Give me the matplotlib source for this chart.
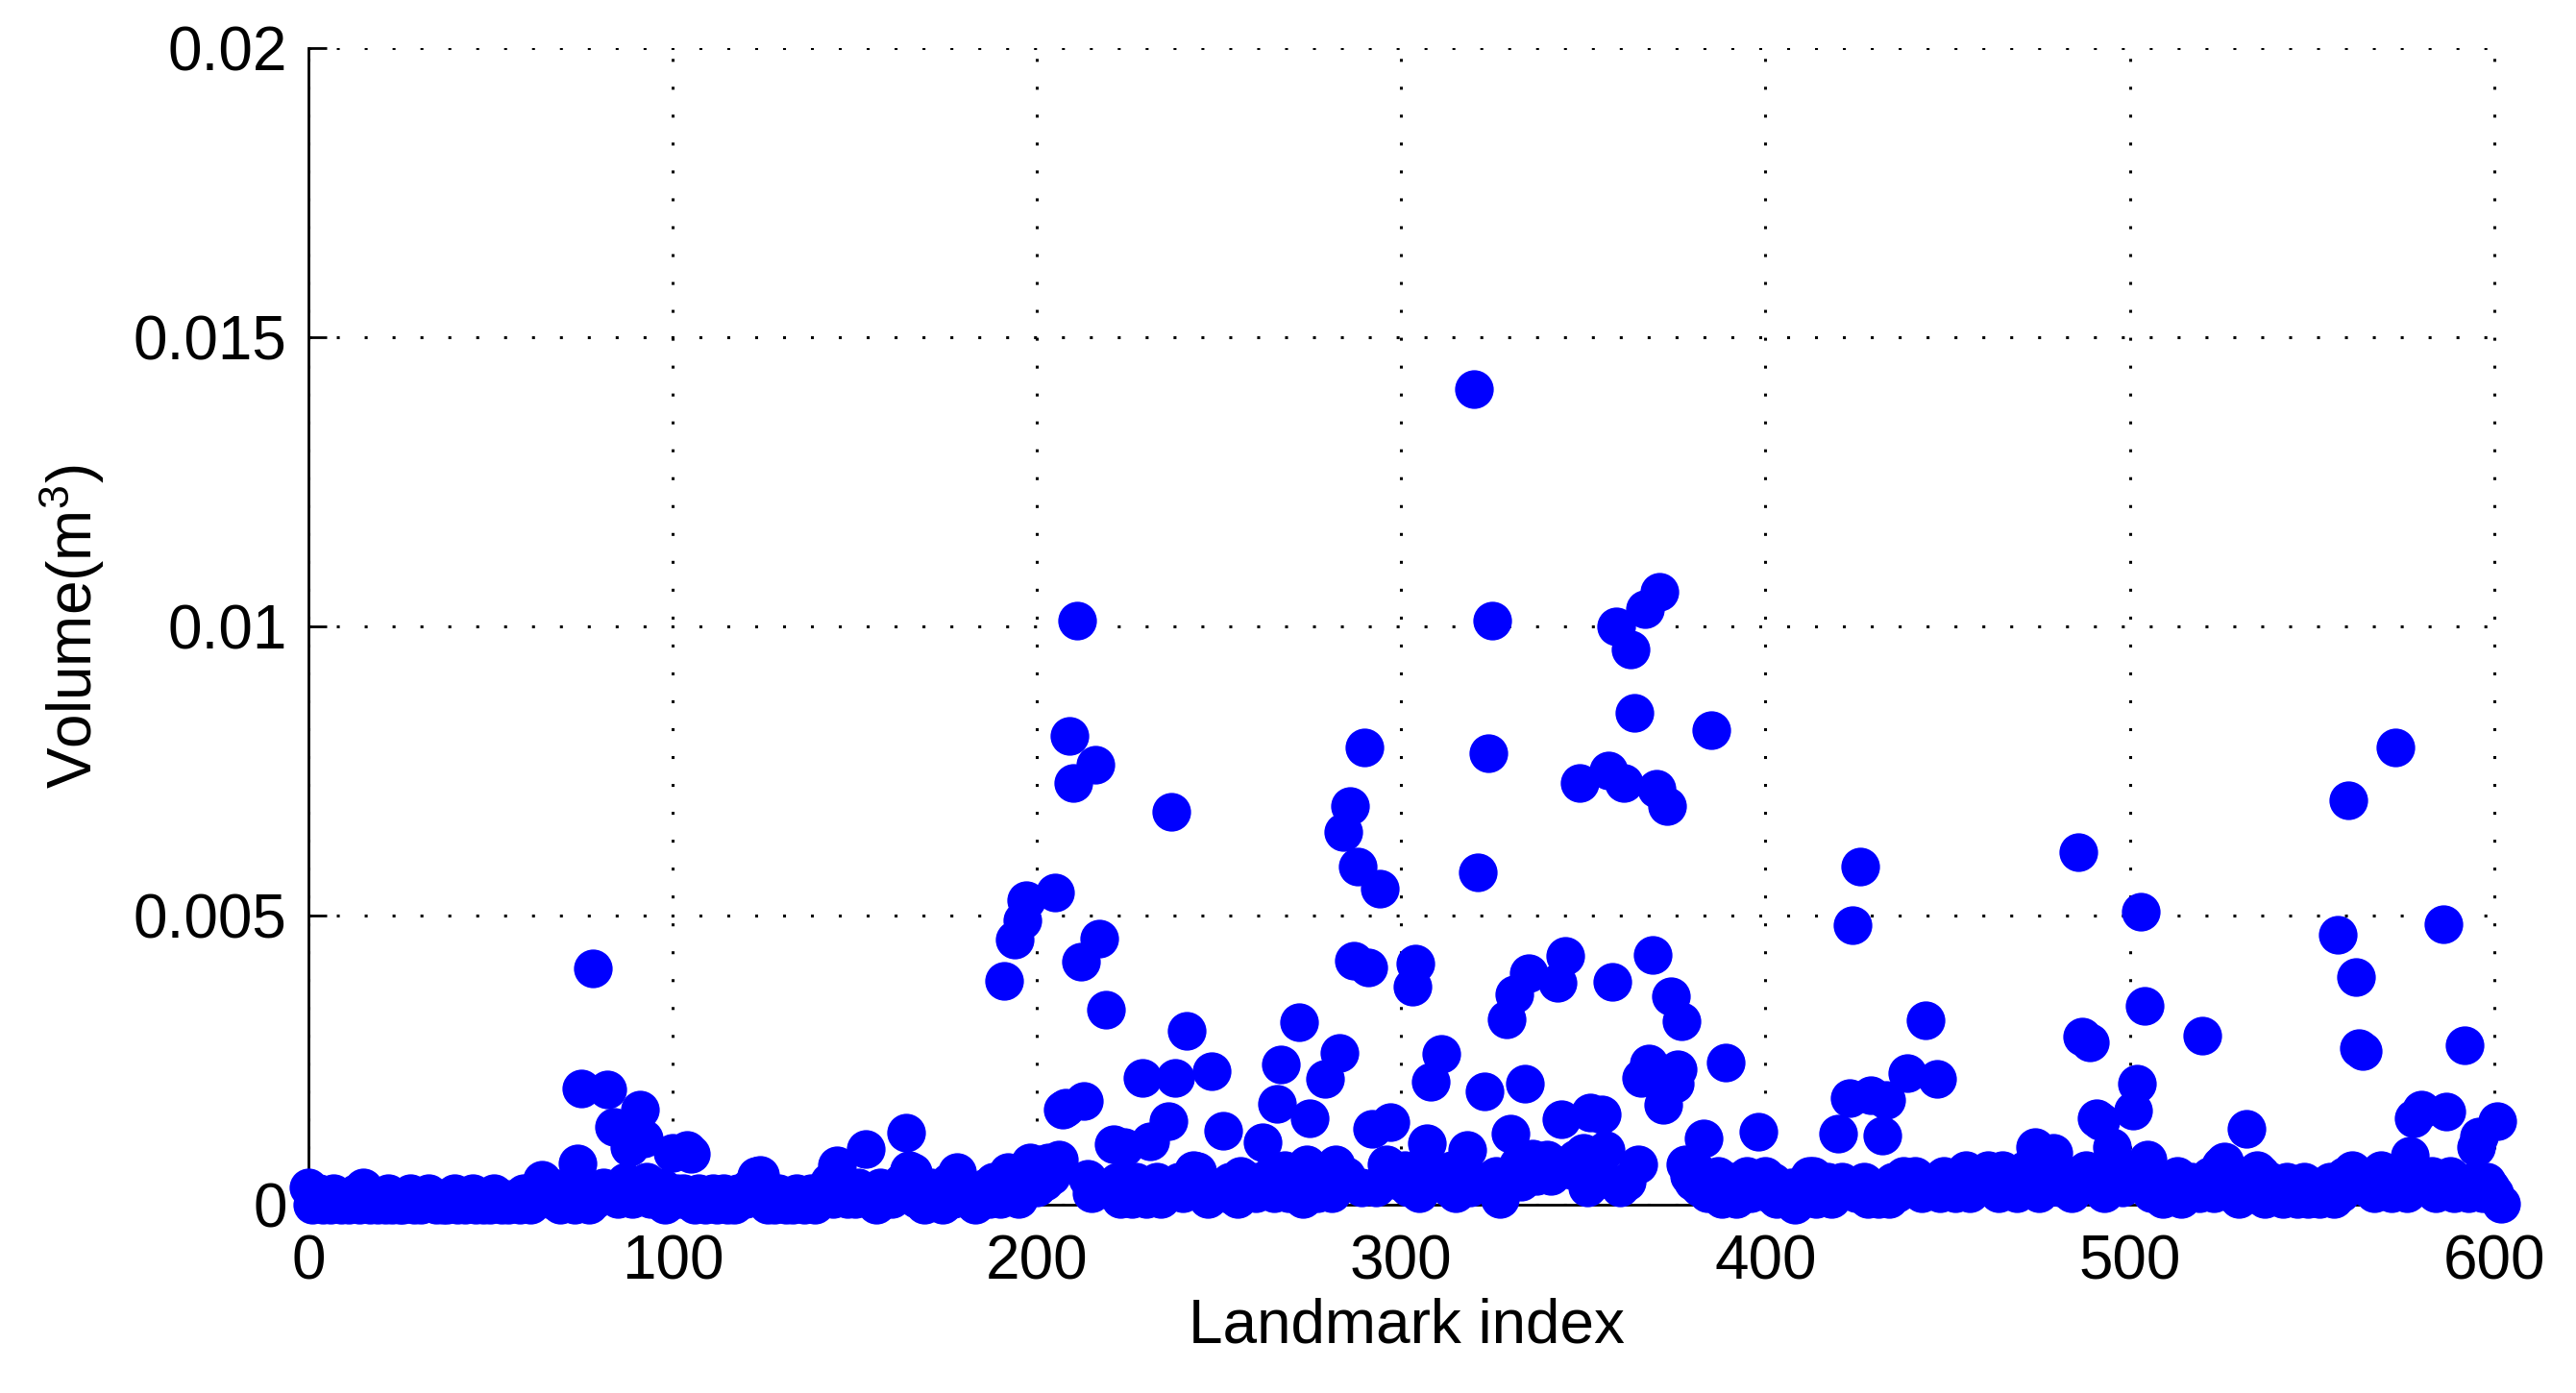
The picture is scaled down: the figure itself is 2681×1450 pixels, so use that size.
import numpy as np
import matplotlib
matplotlib.use('Agg')
import matplotlib.pyplot as plt

# baseline volumes for landmarks 0..602, in units of 1e-4 m^3
base_1e4 = [
    3, 0, 1, 2, 0, 1, 0, 2, 1, 0, 1, 0, 1, 2, 0, 3, 1, 0, 1, 0,
    1, 0, 2, 0, 1, 0, 0, 1, 2, 0, 1, 0, 1, 2, 1, 0, 1, 0, 0, 1,
    2, 0, 1, 0, 1, 2, 0, 1, 0, 1, 0, 2, 1, 0, 1, 0, 1, 1, 0, 2,
    1, 0, 2, 1, 4, 2, 1, 3, 1, 0, 2, 1, 1, 0, 2, 3, 1, 0, 2, 1,
    2, 3, 1, 2, 3, 1, 2, 4, 3, 1, 2, 3, 2, 4, 1, 2, 1, 3, 0, 2,
    3, 2, 1, 2, 3, 1, 0, 2, 1, 0, 1, 2, 0, 1, 2, 0, 1, 0, 2, 1,
    1, 3, 2, 5, 1, 2, 0, 1, 0, 2, 1, 0, 1, 0, 2, 1, 0, 1, 2, 0,
    1, 2, 3, 4, 1, 7, 2, 3, 1, 2, 1, 3, 2, 4, 1, 2, 0, 3, 1, 2,
    1, 3, 2, 4, 2, 6, 3, 1, 2, 0, 1, 3, 1, 2, 0, 2, 4, 1, 6, 2,
    3, 1, 2, 0, 1, 2, 3, 1, 4, 2, 1, 3, 6, 2, 3, 1, 4, 2, 5, 6,
    3, 7, 4, 2, 5, 3, 1, 4, 2, 3, 6, 2, 4, 5, 3, 2, 4, 1, 3, 2,
    3, 2, 4, 1, 2, 3, 1, 4, 2, 3, 1, 2, 3, 4, 1, 2, 5, 3, 2, 4,
    2, 3, 4, 6, 1, 3, 2, 1, 4, 2, 3, 1, 2, 4, 3, 1, 5, 2, 3, 4,
    2, 4, 1, 3, 5, 2, 4, 3, 6, 2, 5, 3, 4, 1, 7, 3, 5, 2, 4, 3,
    5, 2, 4, 6, 3, 5, 8, 2, 4, 3, 6, 2, 5, 3, 1, 4, 7, 3, 5, 6,
    4, 6, 3, 5, 7, 2, 4, 8, 3, 6, 5, 7, 4, 3, 6, 2, 5, 4, 9, 3,
    5, 7, 4, 3, 6, 1, 5, 1, 4, 6, 3, 5, 7, 4, 6, 3, 8, 5, 7, 6,
    8, 5, 7, 6, 9, 4, 7, 6, 8, 5, 9, 3, 7, 4, 6, 8, 5, 9, 4, 2,
    3, 6, 4, 8, 5, 7, 3, 6, 4, 5, 7, 3, 6, 2, 5, 4, 6, 3, 7, 5,
    4, 6, 3, 5, 2, 4, 3, 5, 1, 3, 2, 4, 1, 2, 3, 5, 2, 4, 6, 3,
    5, 2, 4, 1, 3, 2, 1, 3, 0, 2, 1, 4, 2, 5, 1, 3, 2, 4, 1, 3,
    2, 4, 3, 1, 5, 2, 3, 4, 1, 2, 3, 1, 2, 3, 1, 4, 2, 3, 5, 2,
    4, 5, 3, 2, 5, 3, 4, 6, 2, 5, 3, 4, 2, 5, 3, 6, 2, 4, 3, 5,
    4, 6, 3, 5, 2, 6, 4, 3, 5, 2, 4, 6, 3, 5, 4, 2, 6, 3, 5, 4,
    6, 3, 5, 4, 2, 5, 3, 4, 6, 2, 5, 3, 4, 2, 5, 3, 4, 6, 3, 5,
    4, 2, 5, 3, 6, 4, 2, 5, 3, 1, 4, 2, 3, 5, 1, 3, 2, 4, 3, 2,
    4, 3, 5, 2, 4, 6, 3, 5, 2, 4, 1, 3, 5, 2, 4, 6, 3, 1, 2, 4,
    2, 3, 1, 4, 2, 3, 1, 2, 4, 1, 3, 2, 1, 3, 2, 4, 1, 3, 2, 5,
    3, 5, 2, 4, 6, 3, 5, 2, 4, 6, 3, 5, 2, 4, 3, 6, 2, 4, 5, 3,
    6, 4, 3, 5, 2, 4, 6, 3, 5, 2, 4, 3, 5, 2, 4, 6, 3, 2, 4, 3,
    2, 4, 0,
]

# larger volumes (landmark index, m^3)
peak_idx = [64, 74, 75, 78, 82, 84, 88, 91, 92, 100, 104, 105, 123, 124,
            145, 153, 164, 166, 178, 191, 192, 194, 196, 197, 198, 203,
            205, 206, 207, 208, 209, 210, 211, 212, 213, 214, 216, 217,
            219, 221, 224, 229, 231, 236, 237, 238, 241, 244, 248, 251,
            262, 266, 267, 272, 275, 279, 282, 283, 284, 286, 287, 288,
            290, 291, 292, 294, 297, 303, 304, 307, 308, 311, 318, 320,
            321, 323, 324, 325, 327, 329, 330, 331, 334, 335, 340, 343,
            344, 345, 349, 352, 355, 356, 357, 358, 359, 361, 363, 364,
            366, 367, 368, 369, 370, 371, 372, 373, 374, 375, 376, 377,
            383, 385, 389, 398, 412, 420, 423, 424, 426, 429, 432, 433,
            439, 444, 447, 474, 479, 486, 487, 489, 491, 492, 495, 501,
            502, 503, 504, 505, 520, 525, 526, 532, 536, 557, 560, 561,
            562, 563, 564, 573, 577, 578, 580, 586, 587, 592, 595, 596,
            601, 602]
peak_vol = [0.00043, 0.00071, 0.00201, 0.00409, 0.0020, 0.00135, 0.0010,
            0.00164, 0.00115, 0.0009, 0.00095, 0.00088, 0.0005, 0.00051,
            0.00068, 0.00096, 0.00125, 0.00056, 0.00056, 0.00387, 0.00056,
            0.00458, 0.00491, 0.00527, 0.00073, 0.00073, 0.0054, 0.00078,
            0.00164, 0.00168, 0.0081, 0.0073, 0.0101, 0.0042, 0.0018,
            0.00045, 0.0076, 0.0046, 0.00337, 0.00105, 0.0010, 0.0022,
            0.0011, 0.00145, 0.0068, 0.0022, 0.0030, 0.00058, 0.00231,
            0.00128, 0.00108, 0.00174, 0.00243, 0.00315, 0.0015, 0.00218,
            0.0007, 0.00262, 0.00645, 0.0069, 0.00422, 0.00585, 0.0079,
            0.0041, 0.00131, 0.00547, 0.00143, 0.00377, 0.00417, 0.00106,
            0.00213, 0.0026, 0.00095, 0.0141, 0.00575, 0.00196, 0.0078,
            0.0101, 0.0001, 0.0032, 0.00123, 0.00364, 0.0021, 0.0040,
            0.00078, 0.00383, 0.00148, 0.0043, 0.0073, 0.0016, 0.00156,
            0.00095, 0.0075, 0.00385, 0.0100, 0.0073, 0.0096, 0.0085,
            0.0022, 0.0103, 0.00244, 0.00432, 0.0072, 0.0106, 0.00173,
            0.0069, 0.0036, 0.0021, 0.00234, 0.00317, 0.00115, 0.0082,
            0.00246, 0.00126, 0.0005, 0.00123, 0.00184, 0.00483, 0.00585,
            0.0019, 0.0012, 0.00181, 0.00228, 0.00319, 0.00218, 0.0010,
            0.0009, 0.0061, 0.0029, 0.0028, 0.0015, 0.00145, 0.0010,
            0.00163, 0.0021, 0.00507, 0.00344, 0.00078, 0.00292, 0.00068,
            0.00075, 0.00131, 0.00053, 0.00467, 0.0070, 0.0006, 0.00394,
            0.0027, 0.00265, 0.0079, 0.00085, 0.0015, 0.00164, 0.00485,
            0.00161, 0.00276, 0.0010, 0.00118, 0.00145, 0.00002]

landmark = np.arange(len(base_1e4))
volume = np.array(base_1e4, dtype=float) * 1e-4
volume[np.array(peak_idx)] = peak_vol

plt.rcParams['font.family'] = ['Liberation Sans', 'DejaVu Sans']
plt.rcParams['mathtext.default'] = 'regular'

fig = plt.figure(figsize=(26.81, 14.5), dpi=100)
ax = fig.add_axes([0.1197, 0.1352, 0.8527, 0.8303])

ax.plot(landmark, volume, 'o', color='#0000FF', markersize=29,
        markeredgewidth=0, clip_on=False, zorder=3)

ax.set_xlim(0, 603)
ax.set_ylim(0, 0.02)
ax.set_xticks([0, 100, 200, 300, 400, 500, 600])
ax.set_yticks([0, 0.005, 0.01, 0.015, 0.02])
ax.set_yticklabels(['0', '0.005', '0.01', '0.015', '0.02'])
ax.grid(True, color='black', linestyle=(0, (1, 8.5)), linewidth=2.2)
ax.set_axisbelow(True)

for s in ['top', 'right']:
    ax.spines[s].set_visible(False)
for s in ['left', 'bottom']:
    ax.spines[s].set_linewidth(2)
    ax.spines[s].set_color('black')

ax.tick_params(direction='in', length=14, width=2, labelsize=46, pad=16)
ax.tick_params(axis='x', pad=22)
ax.set_xlabel('Landmark index', fontsize=46, labelpad=4)
ax.set_ylabel('Volume(m$^3$)', fontsize=46, labelpad=20)

plt.savefig('out.png', dpi=100)
